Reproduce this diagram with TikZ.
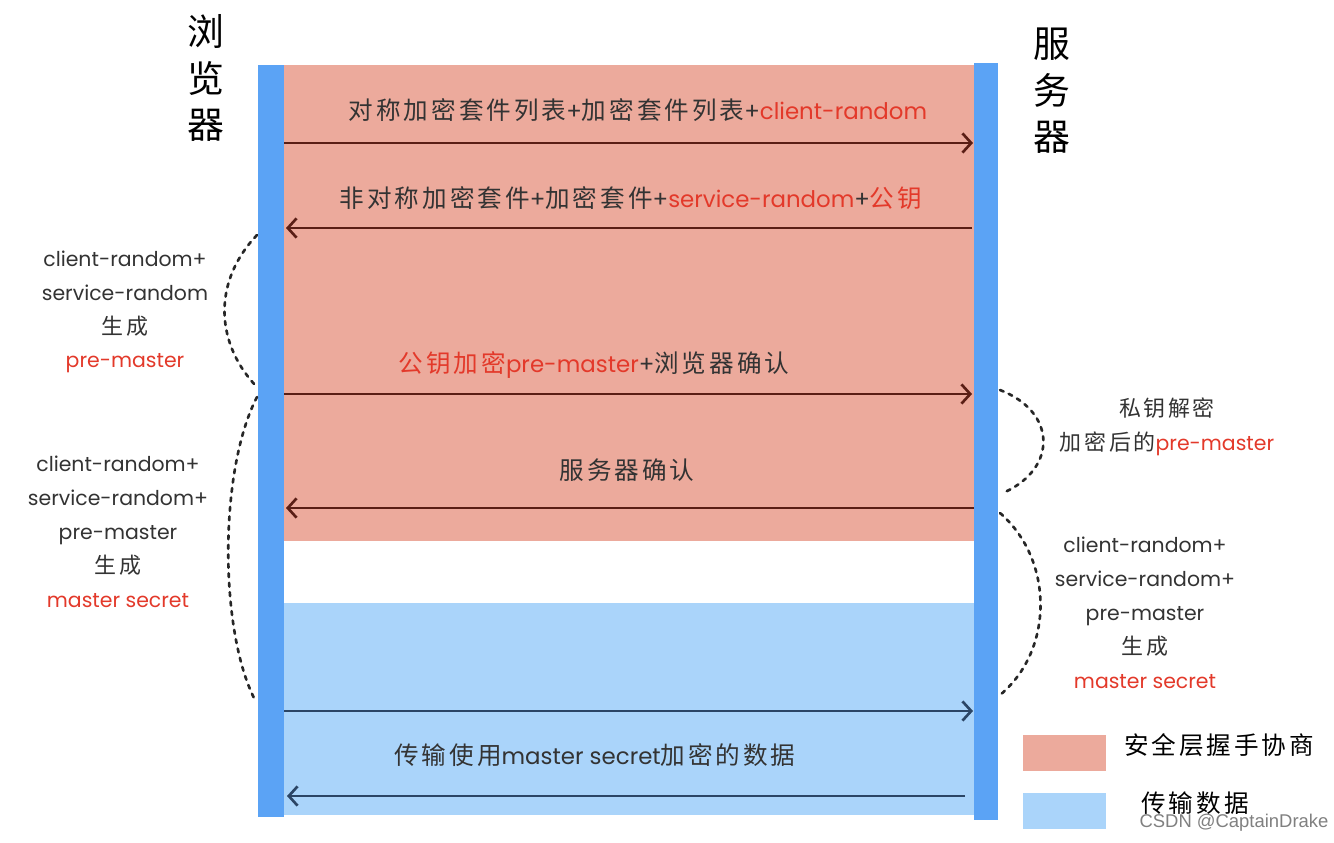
\documentclass[tikz,border=0pt]{standalone}
\usepackage{fontspec}
\setmainfont{Noto Sans CJK SC}[LetterSpace=12]
\newfontfamily\lat{Poppins}[Scale=0.93]
\newfontfamily\wmfont{Liberation Sans}
\usetikzlibrary{arrows.meta}
\definecolor{pinkbg}{HTML}{ECAA9C}
\definecolor{barblue}{HTML}{5BA3F5}
\definecolor{lblue}{HTML}{AAD4FA}
\definecolor{redtxt}{HTML}{E3392A}
\definecolor{darktxt}{HTML}{333333}
\definecolor{brownarr}{HTML}{5A1E15}
\definecolor{navyarr}{HTML}{2B4565}
\begin{document}
\begin{tikzpicture}[x=0.02cm,y=-0.02cm,
  msg/.style={font=\fontsize{14}{16}\selectfont, text=darktxt, inner sep=0pt},
  side/.style={font=\fontsize{12.5}{19.3}\selectfont, text=darktxt, align=center, inner sep=0pt},
  ttl/.style={font=\fontsize{21}{26.5}\selectfont, text=black, align=center, inner sep=0pt},
  legtxt/.style={font=\fontsize{14}{18}\selectfont, text=black, inner sep=0pt},
  pinkarr/.style={line width=1.5pt, draw=brownarr, -{Straight Barb[length=5pt,width=11pt,line width=1.5pt]}},
  bluearr/.style={line width=1.5pt, draw=navyarr, -{Straight Barb[length=5pt,width=11pt,line width=1.5pt]}},
  dots/.style={line width=1.5pt, draw=black!85, dash pattern=on 2.2pt off 3.2pt, line cap=round}
]
\useasboundingbox (0,0) rectangle (1334,842);
\fill[white] (0,0) rectangle (1334,842);

% regions
\fill[pinkbg] (284,65) rectangle (974,541);
\fill[lblue] (284,603) rectangle (974,815);
% bars
\fill[barblue] (258,65) rectangle (284,817);
\fill[barblue] (974,63) rectangle (998,820);

% titles
\node[ttl] (browser) at (206,78) {浏\\览\\器};
\node[ttl] (server) at (1052,91) {服\\务\\器};

% arrow end points
\coordinate (a1s) at (284,143); \coordinate (a1e) at (973,143);
\coordinate (a2s) at (972,228); \coordinate (a2e) at (286,228);
\coordinate (a3s) at (284,394); \coordinate (a3e) at (972,394);
\coordinate (a4s) at (974,508); \coordinate (a4e) at (286,508);
\coordinate (a5s) at (284,711); \coordinate (a5e) at (973,711);
\coordinate (a6s) at (965,796); \coordinate (a6e) at (287,796);

\draw[pinkarr] (a1s) -- (a1e);
\draw[pinkarr] (a2s) -- (a2e);
\draw[pinkarr] (a3s) -- (a3e);
\draw[pinkarr] (a4s) -- (a4e);
\draw[bluearr] (a5s) -- (a5e);
\draw[bluearr] (a6s) -- (a6e);

% messages
\node[msg] (m1) at (638,110) {对称加密套件列表{\lat+}加密套件列表{\lat+}\textcolor{redtxt}{\lat client-random}};
\node[msg] (m2) at (631,198) {非对称加密套件{\lat+}加密套件{\lat+}\textcolor{redtxt}{\lat service-random}{\lat+}\textcolor{redtxt}{公钥}};
\node[msg] (m3) at (594,365) {\textcolor{redtxt}{公钥加密{\lat pre-master}}{\lat+}浏览器确认};
\node[msg] (m4) at (627,470) {服务器确认};
\node[msg] (m6) at (595,755) {传输使用{\lat master secret}加密的数据};

% side labels
\node[side] (l1) at (125,312) {{\lat client-random+}\\{\lat service-random}\\生成\\\textcolor{redtxt}{\lat pre-master}};
\node[side] (l2) at (118,532) {{\lat client-random+}\\{\lat service-random+}\\{\lat pre-master}\\生成\\\textcolor{redtxt}{\lat master secret}};
\node[side] (r1) at (1167,427) {私钥解密\\加密后的\textcolor{redtxt}{\lat pre-master}};
\node[side] (r2) at (1145,613) {{\lat client-random+}\\{\lat service-random+}\\{\lat pre-master}\\生成\\\textcolor{redtxt}{\lat master secret}};

% dotted brackets
\coordinate (b1s) at (257,235); \coordinate (b1e) at (255,385);
\coordinate (b2s) at (257,397); \coordinate (b2e) at (255,700);
\coordinate (b3s) at (1000,390); \coordinate (b3e) at (1005,492);
\coordinate (b4s) at (1000,513); \coordinate (b4e) at (1000,695);
\draw[dots] (b1s) .. controls (214,280) and (214,340) .. (b1e);
\draw[dots] (b2s) .. controls (219,470) and (219,630) .. (b2e);
\draw[dots] (b3s) .. controls (1057,412) and (1057,468) .. (b3e);
\draw[dots] (b4s) .. controls (1054,560) and (1054,650) .. (b4e);

% legend
\fill[pinkbg] (1023,735) rectangle (1106,771);
\fill[lblue] (1023,793) rectangle (1106,829);
\node[legtxt] (lg1) at (1219,745) {安全层握手协商};
\node[legtxt] (lg2) at (1195,803) {传输数据};

% watermark
\node[font=\wmfont\fontsize{10.5}{12}\selectfont, text=black!50, inner sep=0pt] (wm) at (1234,823) {CSDN @CaptainDrake};
\end{tikzpicture}
\end{document}
